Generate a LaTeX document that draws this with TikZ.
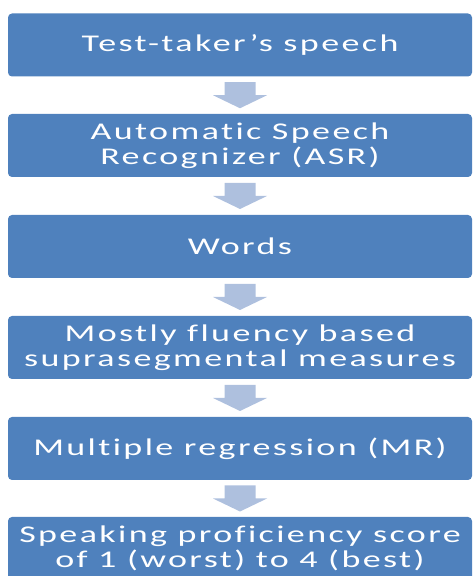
\documentclass[tikz,border=0pt]{standalone}
\usepackage{fontspec}
\setmainfont{Carlito}[FakeStretch=1.5,LetterSpace=10,Ligatures={NoCommon}]
\usetikzlibrary{calc}
\definecolor{boxblue}{RGB}{79,129,189}
\definecolor{arrowblue}{RGB}{174,192,222}
\tikzset{
  stepbox/.style={rectangle, rounded corners=4pt, fill=boxblue, text=white,
    minimum width=464pt, minimum height=63pt, inner sep=0pt, align=center,
    font=\fontsize{24}{24.5}\selectfont},
  fatarrow/.style={fill=arrowblue}
}
\newcommand{\flowarrow}[3]{%
  \path (#1.south) -- (#2.north) coordinate[pos=0.5] (#3);
  \fill[fatarrow] ($(#3)+(-15.5,13)$) -- ($(#3)+(15.5,13)$) -- ($(#3)+(15.5,0)$)
    -- ($(#3)+(27,0)$) -- ($(#3)+(0,-13)$) -- ($(#3)+(-27,0)$) -- ($(#3)+(-15.5,0)$) -- cycle;
}
\begin{document}
\begin{tikzpicture}[x=1pt,y=1pt]
\useasboundingbox (0,0) rectangle (472,576);
\clip (0,0) rectangle (472,576);
\node[stepbox] (b1) at (240,576-45) {Test-taker’s speech};
\node[stepbox] (b2) at (240,576-145.5) {Automatic Speech\\Recognizer (ASR)};
\node[stepbox] (b3) at (240,576-246.5) {Words};
\node[stepbox] (b4) at (240,576-347.5) {Mostly fluency based\\suprasegmental measures};
\node[stepbox] (b5) at (240,576-448.5) {Multiple regression (MR)};
\node[stepbox] (b6) at (240,576-548.5) {Speaking proficiency score\\of 1 (worst) to 4 (best)};
\flowarrow{b1}{b2}{m1}
\flowarrow{b2}{b3}{m2}
\flowarrow{b3}{b4}{m3}
\flowarrow{b4}{b5}{m4}
\flowarrow{b5}{b6}{m5}
\end{tikzpicture}
\end{document}
